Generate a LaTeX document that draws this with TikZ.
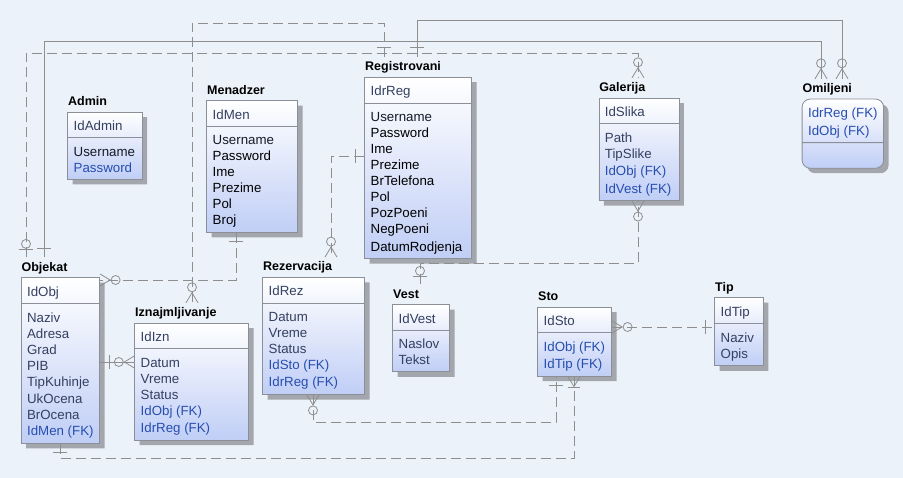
\documentclass[tikz,border=0pt]{standalone}
\usepackage{fontspec}
\setmainfont{Liberation Sans}
\usepackage{tikz}
\usetikzlibrary{shapes.multipart,shadows}

\definecolor{canvas}{RGB}{236,242,249}
\definecolor{tblblue}{RGB}{192,206,246}
\definecolor{tblborder}{RGB}{138,143,152}
\definecolor{tblshadow}{RGB}{163,166,172}
\definecolor{attrtext}{RGB}{52,64,96}
\definecolor{firsttext}{RGB}{20,26,40}
\definecolor{fktext}{RGB}{38,78,176}
\definecolor{relgray}{RGB}{142,142,142}

\newcommand{\rowstrut}{\rule[-2.3pt]{0pt}{16pt}}

\tikzset{
  pics/cardone/.style={code={\draw (-7,9) -- (7,9);}},
  pics/cardzeroone/.style={code={\draw (-7,8) -- (7,8); \draw (0,13.5) circle (4.5);}},
  pics/cardzeromany/.style={code={\draw (-6,0) -- (0,10) -- (6,0); \draw (0,15.5) circle (4.5);}},
  pics/cardonemany/.style={code={\draw (-6,0) -- (0,10) -- (6,0); \draw (-6,11) -- (6,11);}}
}

\begin{document}
\begin{tikzpicture}[x=1pt,y=1pt,
    entity/.style={rectangle split, rectangle split parts=2, rectangle split part align={left},
      align=left, anchor=north west, draw=tblborder, line width=0.8pt,
      top color=white, bottom color=tblblue, inner xsep=6pt, inner ysep=4.4pt,
      font=\fontsize{13.3}{16}\selectfont, text=attrtext,
      drop shadow={shadow xshift=5pt, shadow yshift=-5pt, fill=tblshadow, opacity=1}},
    entitytitle/.style={anchor=base west, inner xsep=0pt, inner ysep=4.5pt,
      text height=9.2pt, text depth=2.6pt, font=\bfseries\fontsize{12.5}{15}\selectfont},
    identrel/.style={draw=relgray, line width=0.8pt},
    nonidentrel/.style={identrel, dash pattern=on 10pt off 5pt},
    markline/.style={color=relgray, line width=0.8pt}]
                % Canvas
                \fill[canvas](0,0) rectangle (903,-478);
                \useasboundingbox (0,0) rectangle (903,-478);
                % Tables
                \node[entity, minimum width=74.4] (admin) at (67.3,-111.7)
                    {\rowstrut IdAdmin\nodepart{two}\rowstrut\textcolor{firsttext}{Username}\\\rowstrut\textcolor{fktext}{Password}};
                \node[entity, minimum width=91] (menadzer) at (206.3,-100.3)
                    {\rowstrut IdMen\nodepart{two}\rowstrut\textcolor{firsttext}{Username}\\\rowstrut Password\\\rowstrut Ime\\\rowstrut Prezime\\\rowstrut Pol\\\rowstrut Broj};
                \node[entity, minimum width=107] (registrovani) at (364.3,-76.7)
                    {\rowstrut IdrReg\nodepart{two}\rowstrut\textcolor{firsttext}{Username}\\\rowstrut Password\\\rowstrut Ime\\\rowstrut Prezime\\\rowstrut BrTelefona\\\rowstrut Pol\\\rowstrut PozPoeni\\\rowstrut NegPoeni\\\rowstrut DatumRodjenja};
                \node[entity, minimum width=80] (galerija) at (598.5,-97.7)
                    {\rowstrut IdSlika\nodepart{two}\rowstrut Path\\\rowstrut TipSlike\\\rowstrut\textcolor{fktext}{IdObj (FK)}\\\rowstrut\textcolor{fktext}{IdVest (FK)}};
                \node[entity, minimum width=81.3, rounded corners=8pt, text=fktext] (omiljeni) at (801.7,-98.7)
                    {\rowstrut IdrReg (FK)\\\rowstrut IdObj (FK)\nodepart{two}\rowstrut};
                \node[entity, minimum width=78.6] (objekat) at (20.7,-277.3)
                    {\rowstrut IdObj\nodepart{two}\rowstrut Naziv\\\rowstrut Adresa\\\rowstrut Grad\\\rowstrut PIB\\\rowstrut TipKuhinje\\\rowstrut UkOcena\\\rowstrut BrOcena\\\rowstrut\textcolor{fktext}{IdMen (FK)}};
                \node[entity, minimum width=114] (iznajmljivanje) at (134.3,-322.7)
                    {\rowstrut IdIzn\nodepart{two}\rowstrut Datum\\\rowstrut Vreme\\\rowstrut Status\\\rowstrut\textcolor{fktext}{IdObj (FK)}\\\rowstrut\textcolor{fktext}{IdrReg (FK)}};
                \node[entity, minimum width=102] (rezervacija) at (262.3,-277)
                    {\rowstrut IdRez\nodepart{two}\rowstrut Datum\\\rowstrut Vreme\\\rowstrut Status\\\rowstrut\textcolor{fktext}{IdSto (FK)}\\\rowstrut\textcolor{fktext}{IdrReg (FK)}};
                \node[entity, minimum width=57] (vest) at (392.3,-304.3)
                    {\rowstrut IdVest\nodepart{two}\rowstrut Naslov\\\rowstrut Tekst};
                \node[entity, minimum width=74] (sto) at (537.3,-306.7)
                    {\rowstrut IdSto\nodepart{two}\rowstrut\textcolor{fktext}{IdObj (FK)}\\\rowstrut\textcolor{fktext}{IdTip (FK)}};
                \node[entity, minimum width=48.7] (tip) at (714.3,-297.3)
                    {\rowstrut IdTip\nodepart{two}\rowstrut Naziv\\\rowstrut Opis};
                % Table names
                \node[entitytitle] (admintitle) at ([shift={(0.7,6)}]admin.north west) {Admin};
                \node[entitytitle] (mentitle) at ([shift={(0.7,6)}]menadzer.north west) {Menadzer};
                \node[entitytitle] (regtitle) at ([shift={(0.7,6)}]registrovani.north west) {Registrovani};
                \node[entitytitle] (galtitle) at ([shift={(0.7,6)}]galerija.north west) {Galerija};
                \node[entitytitle] (omtitle) at ([shift={(0.7,6)}]omiljeni.north west) {Omiljeni};
                \node[entitytitle] (objtitle) at ([shift={(0.7,6)}]objekat.north west) {Objekat};
                \node[entitytitle] (izntitle) at ([shift={(0.7,6)}]iznajmljivanje.north west) {Iznajmljivanje};
                \node[entitytitle] (reztitle) at ([shift={(0.7,6)}]rezervacija.north west) {Rezervacija};
                \node[entitytitle] (vesttitle) at ([shift={(0.7,6)}]vest.north west) {Vest};
                \node[entitytitle] (stotitle) at ([shift={(0.7,6)}]sto.north west) {Sto};
                \node[entitytitle] (tiptitle) at ([shift={(0.7,6)}]tip.north west) {Tip};
                % Line corners
                \coordinate (regom) at (417,-20);
                \coordinate (omreg) at (842,-20);
                \coordinate (objom) at (44,-41);
                \coordinate (omobj) at (821,-41);
                \coordinate (objizn) at (0,-362);
                \coordinate (objgal) at (26,-53);
                \coordinate (galobj) at (638,-53);
                \coordinate (regizn) at (384,-23);
                \coordinate (iznreg) at (192,-23);
                \coordinate (menobj) at (236,-280);
                \coordinate (regrez) at (331,-156);
                \coordinate (vestgal) at (420,-263);
                \coordinate (galvest) at (638,-263);
                \coordinate (stotip) at (0,-327);
                \coordinate (rezsto) at (313,-422);
                \coordinate (storez) at (556,-422);
                \coordinate (objsto) at (60,-458);
                \coordinate (stoobj) at (574,-458);
                % Identifying relationships
                \draw[identrel](regtitle.north -| regom)--(regom)--(omreg)--(omtitle.north -| omreg);
                \draw[identrel](objtitle.north -| objom)--(objom)--(omobj)--(omtitle.north -| omobj);
                \draw[identrel](objekat.east |- objizn)--(iznajmljivanje.west |- objizn);
                % Non-identifying relationships
                \draw[nonidentrel](objtitle.north -| objgal)--(objgal)--(galobj)--(galtitle.north -| galobj);
                \draw[nonidentrel](regtitle.north -| regizn)--(regizn)--(iznreg)--(izntitle.north -| iznreg);
                \draw[nonidentrel](menadzer.south -| menobj)--(menobj)--(objekat.east |- menobj);
                \draw[nonidentrel](registrovani.west |- regrez)--(regrez)--(reztitle.north -| regrez);
                \draw[nonidentrel](vesttitle.north -| vestgal)--(vestgal)--(galvest)--(galerija.south -| galvest);
                \draw[nonidentrel](sto.east |- stotip)--(tip.west |- stotip);
                \draw[nonidentrel](rezervacija.south -| rezsto)--(rezsto)--(storez)--(sto.south -| storez);
                \draw[nonidentrel](objekat.south -| objsto)--(objsto)--(stoobj)--(sto.south -| stoobj);
                % Cardinality marks
                \pic[markline] at (regtitle.north -| regom) {cardone};
                \pic[markline] at (omtitle.north -| omreg) {cardzeromany};
                \pic[markline] at (objtitle.north -| objom) {cardone};
                \pic[markline] at (omtitle.north -| omobj) {cardzeromany};
                \pic[markline,rotate=-90] at (objekat.east |- objizn) {cardone};
                \pic[markline,rotate=90] at (iznajmljivanje.west |- objizn) {cardzeromany};
                \pic[markline] at (objtitle.north -| objgal) {cardzeroone};
                \pic[markline] at (galtitle.north -| galobj) {cardzeromany};
                \pic[markline] at (regtitle.north -| regizn) {cardone};
                \pic[markline] at (izntitle.north -| iznreg) {cardzeromany};
                \pic[markline,rotate=180] at (menadzer.south -| menobj) {cardone};
                \pic[markline,rotate=-90] at (objekat.east |- menobj) {cardzeromany};
                \pic[markline,rotate=90] at (registrovani.west |- regrez) {cardone};
                \pic[markline] at (reztitle.north -| regrez) {cardzeromany};
                \pic[markline] at (vesttitle.north -| vestgal) {cardzeroone};
                \pic[markline,rotate=180] at (galerija.south -| galvest) {cardzeromany};
                \pic[markline,rotate=-90] at (sto.east |- stotip) {cardzeromany};
                \pic[markline,rotate=90] at (tip.west |- stotip) {cardone};
                \pic[markline,rotate=180] at (rezervacija.south -| rezsto) {cardzeromany};
                \pic[markline,rotate=180] at (sto.south -| storez) {cardone};
                \pic[markline,rotate=180] at (objekat.south -| objsto) {cardone};
                \pic[markline,rotate=180] at (sto.south -| stoobj) {cardonemany};
\end{tikzpicture}
\end{document}
